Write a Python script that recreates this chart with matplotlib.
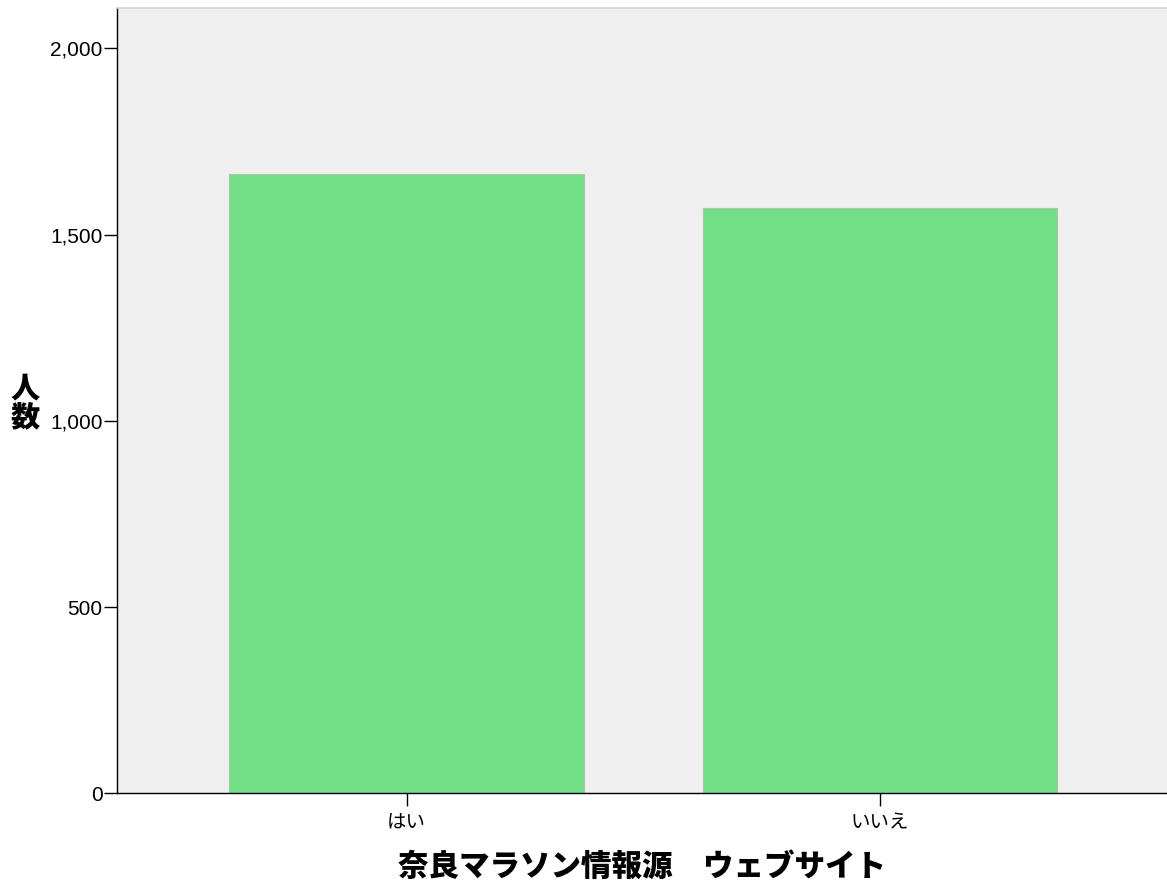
import matplotlib
matplotlib.use("Agg")
import matplotlib.pyplot as plt
from matplotlib.ticker import FuncFormatter

categories = ["はい", "いいえ"]
counts = [1662, 1571]
y_ticks = [0, 500, 1000, 1500, 2000]

JP = ["Noto Sans CJK JP", "DejaVu Sans"]

fig = plt.figure(figsize=(11.67, 8.84), dpi=100)
ax = fig.add_axes([117 / 1167, (884 - 793.3) / 884, 1050 / 1167, (793.3 - 8) / 884])
ax.set_facecolor("#efefef")

x = list(range(len(categories)))
ax.bar(x, counts, width=0.749, color="#72de86", edgecolor="#a8c8a8", linewidth=0.8, zorder=2)

ax.set_xlim(-0.612, 1.606)
ax.set_ylim(0, 2108)
ax.set_yticks(y_ticks)
ax.yaxis.set_major_formatter(FuncFormatter(lambda v, p: f"{int(v):,}"))
ax.set_xticks(x)
ax.set_xticklabels(categories, family=JP, fontsize=14)
for lab in ax.get_yticklabels():
    lab.set_family("Liberation Sans")
    lab.set_fontsize(15)

ax.tick_params(axis="y", length=9.5, width=1, pad=1)
ax.tick_params(axis="x", length=9, width=1, pad=5)

ax.spines["right"].set_visible(False)
ax.spines["top"].set_color("#d4d4d4")
ax.spines["top"].set_linewidth(1.2)
ax.spines["left"].set_linewidth(1)
ax.spines["bottom"].set_linewidth(1)

ax.set_xlabel("奈良マラソン情報源　ウェブサイト", family=JP, fontsize=22, fontweight="heavy", labelpad=12)
fig.text(25 / 1167, 1 - 403 / 884, "人\n数", family=JP, fontsize=21, fontweight="heavy",
         ha="center", va="center", linespacing=0.95)

fig.savefig("out.png", dpi=100)
